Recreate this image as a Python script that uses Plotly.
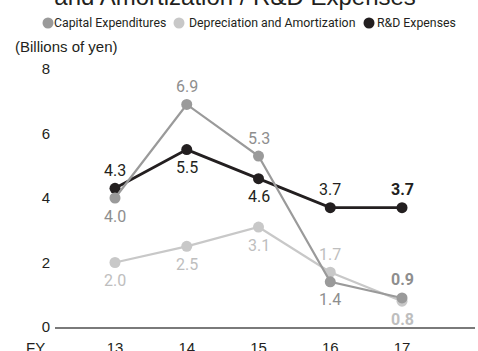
import plotly.graph_objects as go

years = [13, 14, 15, 16, 17]
year_labels = ["13", "14", "15", "16", "17"]
capex = [4.0, 6.9, 5.3, 1.4, 0.9]
depr = [2.0, 2.5, 3.1, 1.7, 0.8]
rnd = [4.3, 5.5, 4.6, 3.7, 3.7]

capex_pos = ["below", "above", "above", "below", "above"]
depr_pos = ["below", "below", "below", "above", "below"]
rnd_pos = ["above", "below", "below", "above", "above"]

C_CAPEX = "#9a9a9a"
C_DEPR = "#c8c8c8"
C_RND = "#231f20"
C_CAPEX_T = "#8e8e8e"
C_DEPR_T = "#bebebe"

NARROW = "Roboto, Liberation Sans Narrow, sans-serif"
REG = "Liberation Sans, Arial, sans-serif"

W, H = 478, 351
L, R, T, B = 55, 3, 52, 24
PW, PH = W - L - R, H - T - B


def px(x):
    return (x - L) / PW


def py(y):
    return (H - B - y) / PH


fig = go.Figure()
series = [
    (capex, C_CAPEX, C_CAPEX_T, capex_pos, 2.2, "Capital Expenditures"),
    (depr, C_DEPR, C_DEPR_T, depr_pos, 2.2, "Depreciation and Amortization"),
    (rnd, C_RND, C_RND, rnd_pos, 2.8, "R&D Expenses"),
]
order = [1, 2, 0]
for i in order:
    vals, col, tcol, pos, lw, name = series[i]
    fig.add_trace(go.Scatter(
        x=years, y=vals, mode="lines+markers", name=name,
        line=dict(color=col, width=lw),
        marker=dict(color=col, size=11),
        showlegend=False, hoverinfo="skip",
    ))

annotations = []
for vals, col, tcol, pos, lw, name in series:
    for k, (x, v, p) in enumerate(zip(years, vals, pos)):
        bold = k == len(years) - 1
        txt = f"{v:.1f}"
        if bold:
            txt = f"<b>{txt}</b>"
        annotations.append(dict(
            x=x, y=v, xref="x", yref="y", text=txt, showarrow=False,
            yshift=18 if p == "above" else -18,
            font=dict(family=NARROW, size=16, color=tcol),
        ))

# Title (second line visible, first line cut off above the canvas)
annotations.append(dict(
    x=px(235), y=py(8), xref="paper", yref="paper", xanchor="center", yanchor="bottom",
    text="Capital Expenditures / Depreciation<br>and Amortization / R&D Expenses",
    showarrow=False, align="center",
    font=dict(family=REG, size=24, color="#231f20"), yshift=-4,
))

# Legend
legend_items = [
    (48, 55, C_CAPEX, "Capital Expenditures"),
    (179, 190, C_DEPR, "Depreciation and Amortization"),
    (369, 378, C_RND, "R&D Expenses"),
]
shapes = []
for cx, tx, col, name in legend_items:
    shapes.append(dict(
        type="circle", xref="paper", yref="paper", xsizemode="pixel", ysizemode="pixel",
        xanchor=px(cx), yanchor=py(23), x0=-5.5, x1=5.5, y0=-5.5, y1=5.5,
        fillcolor=col, line=dict(width=0),
    ))
    annotations.append(dict(
        x=px(tx), y=py(23), xref="paper", yref="paper", xanchor="left", yanchor="middle",
        text=name, showarrow=False, xshift=-3,
        font=dict(family=NARROW, size=12.3, color="#231f20"),
    ))

annotations.append(dict(
    x=px(15), y=py(46), xref="paper", yref="paper", xanchor="left", yanchor="middle",
    text="(Billions of yen)", showarrow=False, xshift=-2,
    font=dict(family=REG, size=15, color="#231f20"),
))
annotations.append(dict(
    x=px(47), y=py(347), xref="paper", yref="paper", xanchor="right", yanchor="middle",
    text="FY", showarrow=False,
    font=dict(family=REG, size=15, color="#231f20"),
))

fig.update_layout(
    width=W, height=H,
    margin=dict(l=L, r=R, t=T, b=B, pad=0),
    paper_bgcolor="white", plot_bgcolor="white",
    annotations=annotations, shapes=shapes,
    xaxis=dict(
        range=[12.164, 18.017], tickvals=years, ticktext=year_labels,
        showgrid=False, zeroline=False, showline=True, linecolor="#7a7a7a", linewidth=1.5,
        ticks="", ticklabelstandoff=6, automargin=False,
        tickfont=dict(family=REG, size=15, color="#231f20"),
    ),
    yaxis=dict(
        range=[0, 8.527], tickvals=[0, 2, 4, 6, 8],
        showgrid=False, zeroline=False, showline=False,
        ticks="", ticklabelstandoff=4, automargin=False,
        tickfont=dict(family=REG, size=15, color="#231f20"),
    ),
)

fig.write_html("out.html", config={"displayModeBar": False},
               post_script="document.body.style.margin='0';")
